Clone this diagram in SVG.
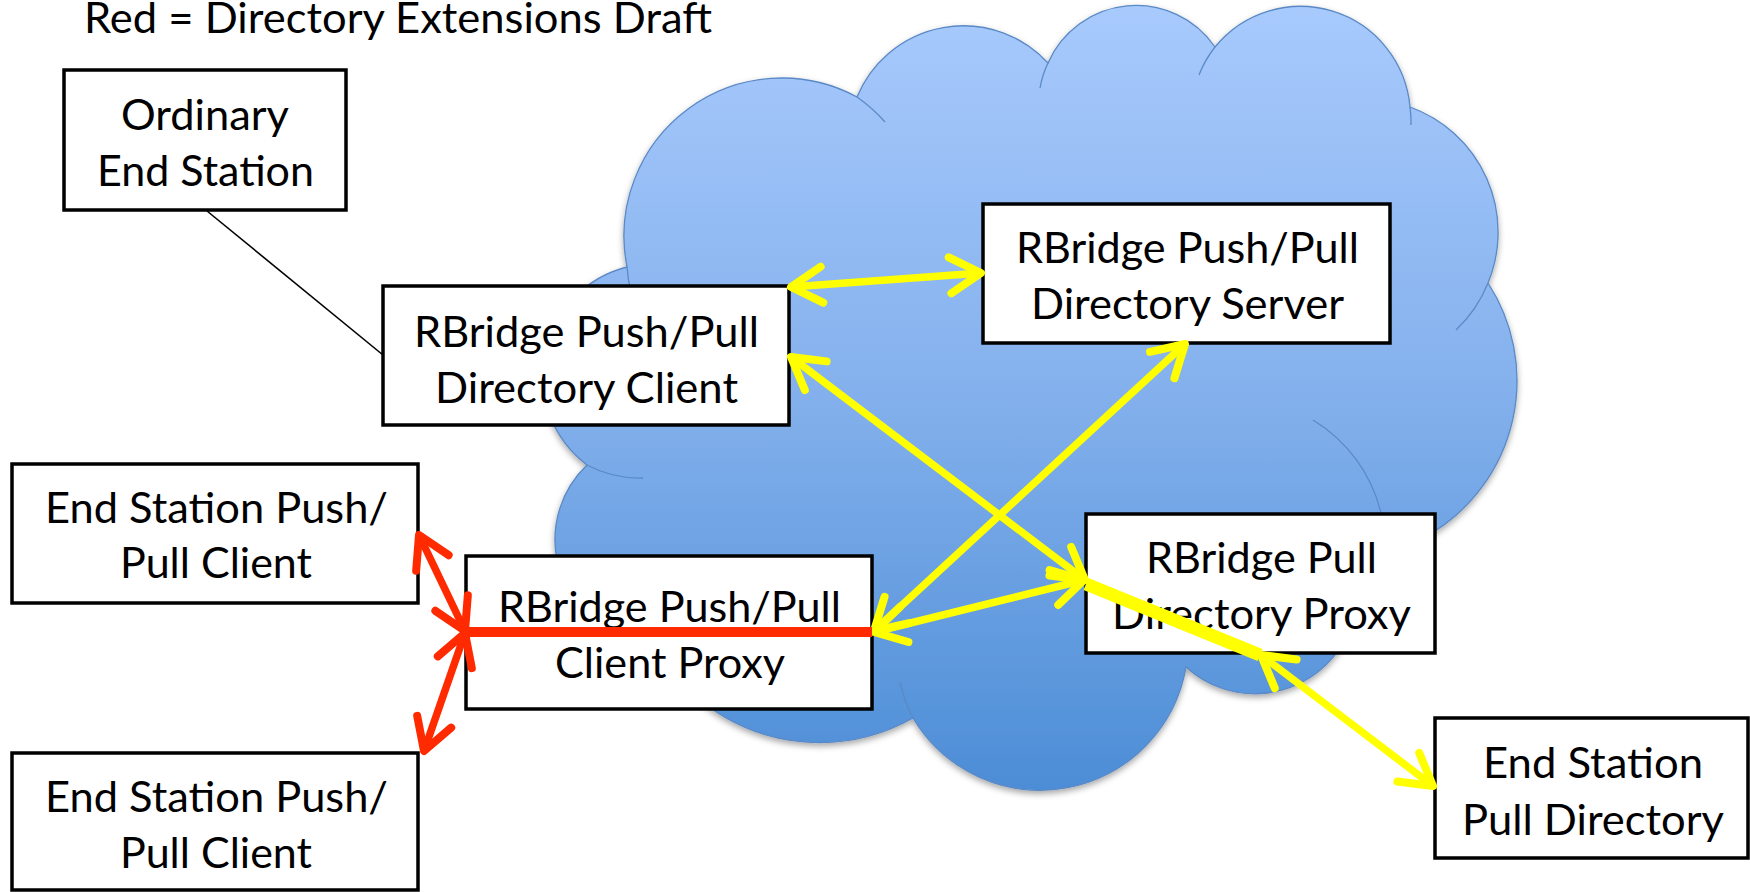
<svg xmlns="http://www.w3.org/2000/svg" width="1750" height="892" viewBox="0 0 1750 892">
<defs>
<linearGradient id="cg" x1="0" y1="0" x2="0" y2="1">
<stop offset="0" stop-color="#a8cafd"/>
<stop offset="0.5" stop-color="#83b0ec"/>
<stop offset="1" stop-color="#4c8dd6"/>
</linearGradient>
<filter id="sh" x="-5%" y="-5%" width="110%" height="115%">
<feDropShadow dx="0" dy="3" stdDeviation="3" flood-color="#000" flood-opacity="0.35"/>
</filter>
<marker id="ay" markerUnits="userSpaceOnUse" orient="auto-start-reverse" refX="0" refY="0" markerWidth="80" markerHeight="80" overflow="visible">
<path d="M-31,-18 L0,0 L-31,18" fill="none" stroke="#ffff00" stroke-width="8" stroke-linecap="round" stroke-linejoin="round"/>
</marker>
<marker id="ar" markerUnits="userSpaceOnUse" orient="auto-start-reverse" refX="0" refY="0" markerWidth="80" markerHeight="80" overflow="visible">
<path d="M-31,-18 L0,0 L-31,18" fill="none" stroke="#ff2a00" stroke-width="8" stroke-linecap="round" stroke-linejoin="round"/>
</marker>
</defs>
<style>
.box{fill:#ffffff;stroke:#000000;stroke-width:3.5}
.t{font-family:Lato,"Open Sans","Liberation Sans",sans-serif;font-size:42.5px;fill:#000000;text-anchor:middle}
.inner{fill:none;stroke:#5b8ac6;stroke-width:1.3}
.yl{stroke:#ffff00;stroke-width:7.5;fill:none;marker-start:url(#ay);marker-end:url(#ay)}
.rl{stroke:#ff2a00;stroke-width:7.5;fill:none;marker-start:url(#ar);marker-end:url(#ar)}
</style>
<rect x="0" y="0" width="1750" height="892" fill="#ffffff"/>
<text class="t" x="398" y="33" textLength="628" lengthAdjust="spacingAndGlyphs">Red = Directory Extensions Draft</text>
<g id="cloud">
<path filter="url(#sh)" fill="url(#cg)" stroke="#5a89c5" stroke-width="1.3" d="M627,267 A158,158 0 0 1 857,97 A115,115 0 0 1 1048,63 A96,96 0 0 1 1215,47 A110,110 0 0 1 1410,107 A133,133 0 0 1 1488,283 A179,179 0 0 1 1432,533 L1400,600 L1340,648 A102,102 0 0 1 1186,667 A148,148 0 0 1 913,718 A190,190 0 0 1 700,700 L557,560 A103,103 0 0 1 587,465 A112,112 0 0 1 627,267 Z"/>
<path class="inner" d="M857,97 A158,158 0 0 1 885,122"/>
<path class="inner" d="M1040,88 A96,96 0 0 1 1048,63"/>
<path class="inner" d="M1199,75 A110,110 0 0 1 1215,47"/>
<path class="inner" d="M1410,107 A110,110 0 0 1 1411,125"/>
<path class="inner" d="M1488,283 A133,133 0 0 1 1456,330"/>
<path class="inner" d="M1313,420 A150,150 0 0 1 1381,513"/>
<path class="inner" d="M913,718 A148,148 0 0 1 900,682"/>
<path class="inner" d="M587,465 A112,112 0 0 0 643,478"/>
<path class="inner" d="M627,267 A158,158 0 0 0 630,288"/>
</g>
<g id="n-ordinary">
<rect class="box" x="64" y="70" width="282" height="140"/>
<text class="t" x="205" y="130" textLength="168" lengthAdjust="spacingAndGlyphs">Ordinary</text>
<text class="t" x="205.5" y="186" textLength="217" lengthAdjust="spacingAndGlyphs">End Station</text>
</g>
<g id="n-dirclient">
<rect class="box" x="383" y="286" width="406" height="139"/>
<text class="t" x="586.5" y="347" textLength="345" lengthAdjust="spacingAndGlyphs">RBridge Push/Pull</text>
<text class="t" x="586.5" y="403" textLength="303" lengthAdjust="spacingAndGlyphs">Directory Client</text>
</g>
<g id="n-server">
<rect class="box" x="983" y="204" width="407" height="139"/>
<text class="t" x="1187.5" y="263" textLength="343" lengthAdjust="spacingAndGlyphs">RBridge Push/Pull</text>
<text class="t" x="1187.5" y="319" textLength="313" lengthAdjust="spacingAndGlyphs">Directory Server</text>
</g>
<g id="n-esclient1">
<rect class="box" x="12" y="464" width="406" height="139"/>
<text class="t" x="216.5" y="523" textLength="343" lengthAdjust="spacingAndGlyphs">End Station Push/</text>
<text class="t" x="216" y="578" textLength="192" lengthAdjust="spacingAndGlyphs">Pull Client</text>
</g>
<g id="n-esclient2">
<rect class="box" x="12" y="753" width="406" height="137"/>
<text class="t" x="216.5" y="812" textLength="343" lengthAdjust="spacingAndGlyphs">End Station Push/</text>
<text class="t" x="216" y="868" textLength="192" lengthAdjust="spacingAndGlyphs">Pull Client</text>
</g>
<g id="n-clientproxy">
<rect class="box" x="466" y="556" width="406" height="153"/>
<text class="t" x="669.5" y="622" textLength="343" lengthAdjust="spacingAndGlyphs">RBridge Push/Pull</text>
<text class="t" x="670" y="678" textLength="230" lengthAdjust="spacingAndGlyphs">Client Proxy</text>
</g>
<g id="n-pullproxy">
<rect class="box" x="1086" y="514" width="349" height="139"/>
<text class="t" x="1261.5" y="573" textLength="231" lengthAdjust="spacingAndGlyphs">RBridge Pull</text>
<text class="t" x="1261.5" y="629" textLength="299" lengthAdjust="spacingAndGlyphs">Directory Proxy</text>
</g>
<g id="n-espull">
<rect class="box" x="1435" y="718" width="313" height="140"/>
<text class="t" x="1593" y="778" textLength="220" lengthAdjust="spacingAndGlyphs">End Station</text>
<text class="t" x="1593" y="835" textLength="262" lengthAdjust="spacingAndGlyphs">Pull Directory</text>
</g>
<g id="connectors">
<line x1="207" y1="211" x2="383" y2="355" stroke="#000000" stroke-width="1.6"/>
<line class="yl" x1="791" y1="287" x2="981" y2="273"/>
<line class="yl" x1="791" y1="357" x2="1085" y2="580"/>
<line class="yl" x1="874" y1="631" x2="1185" y2="344"/>
<line class="yl" x1="874" y1="632" x2="1084" y2="580"/>
<line x1="1086" y1="584" x2="1260" y2="655" stroke="#ffff00" stroke-width="13"/>
<line class="yl" x1="1261" y1="655" x2="1433" y2="786"/>
<line x1="466" y1="632" x2="872" y2="632" stroke="#ff2a00" stroke-width="10"/>
<line class="rl" x1="419" y1="535" x2="465" y2="631"/>
<line class="rl" x1="465" y1="633" x2="424" y2="751"/>
</g>
</svg>
